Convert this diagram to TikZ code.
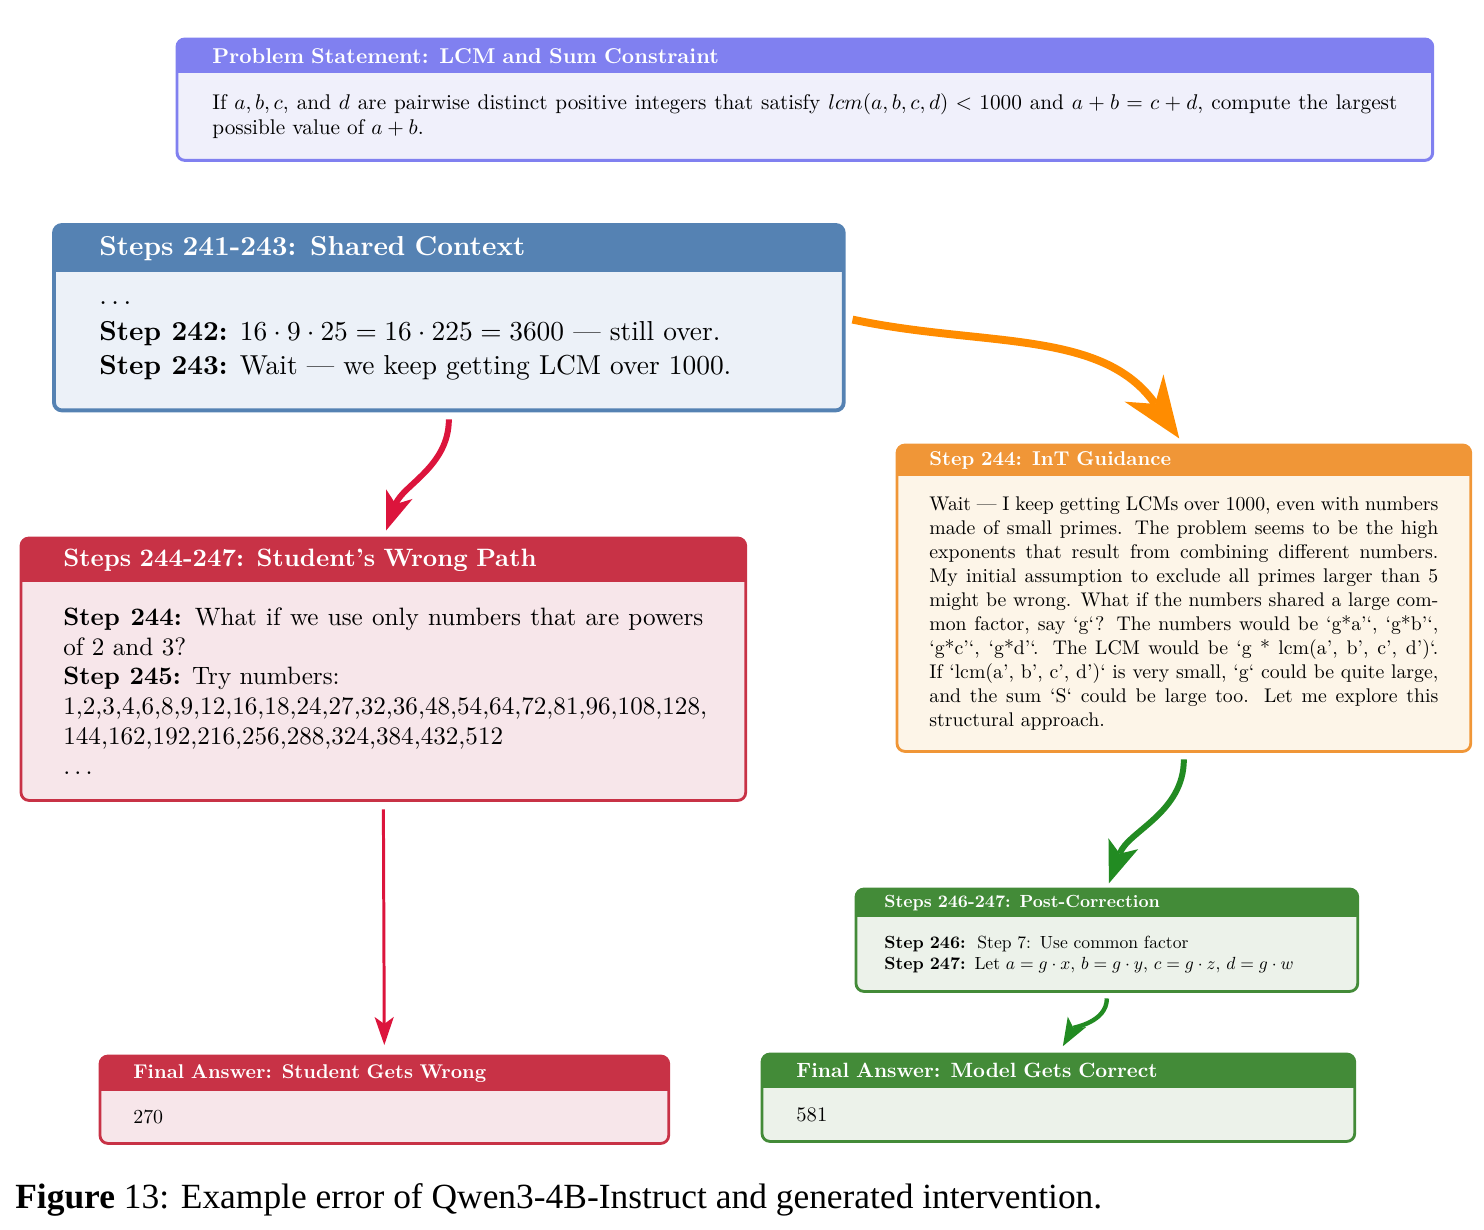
\documentclass[tikz,border=0pt]{standalone}
\usepackage{fontspec}
\setmainfont{lmroman10-regular}[Extension=.otf, BoldFont=lmroman10-bold, ItalicFont=lmroman10-italic, BoldItalicFont=lmroman10-bolditalic]
\newfontfamily\capfont{Liberation Serif}
\DeclareFontShape{OML}{cmm}{m}{it}{<->cmmi10}{}
\DeclareFontShape{OMS}{cmsy}{m}{n}{<->cmsy10}{}
\DeclareFontShape{OT1}{cmr}{m}{n}{<->cmr10}{}
\usepackage{tikz}
\usetikzlibrary{arrows.meta,positioning,calc,backgrounds}

\definecolor{probDark}{RGB}{128,128,240}
\definecolor{probLight}{RGB}{240,240,251}
\definecolor{ctxDark}{RGB}{85,130,179}
\definecolor{ctxLight}{RGB}{236,241,248}
\definecolor{wrongDark}{RGB}{200,50,70}
\definecolor{wrongLight}{RGB}{247,230,234}
\definecolor{guideDark}{RGB}{240,150,55}
\definecolor{guideLight}{RGB}{253,245,232}
\definecolor{fixDark}{RGB}{67,139,56}
\definecolor{fixLight}{RGB}{236,242,234}
\definecolor{arrOrange}{RGB}{255,140,0}
\definecolor{arrRed}{RGB}{220,20,60}
\definecolor{arrGreen}{RGB}{34,139,34}

\newcommand{\fs}[2]{\fontsize{#1}{#2}\selectfont}
% frame behind a title node and a body node
\newcommand{\panelframe}[5][1.6pt]{%
  \begin{scope}[on background layer]
    \fill[#5, rounded corners=4.5pt] (#2.north west) rectangle (#3.south east);
    \fill[#4, rounded corners=4.5pt] (#2.north west) rectangle (#2.south east);
    \fill[#4] (#2.west) rectangle (#2.south east);
    \draw[#4, line width=#1, rounded corners=4.5pt] (#2.north west) rectangle (#3.south east);
  \end{scope}}

\tikzset{
  ttl/.style={anchor=north west, text=white, align=left, inner ysep=0pt},
  bdy/.style={inner ysep=0pt, align=justify, text=black},
}

\begin{document}
\begin{tikzpicture}
\useasboundingbox (0,0) rectangle (29.68,-24.6);

% problem statement
\node[ttl, font=\fs{12.2}{14.2}\bfseries, text width=23.7cm, inner xsep=0.7cm, minimum height=0.66cm] (probt) at (3.54,-0.78) {Problem Statement: LCM and Sum Constraint};
\node[bdy, font=\fs{12.1}{14.2}, text width=23.7cm, inner xsep=0.7cm, minimum height=1.74cm, below=0pt of probt] (prob) {If $a,b,c$, and $d$ are pairwise distinct positive integers that satisfy $lcm(a,b,c,d)<1000$ and $a+b=c+d$, compute the largest possible value of $a+b$.};
\panelframe[1.7pt]{probt}{prob}{probDark}{probLight}

% shared context
\node[ttl, font=\fs{15.6}{18.8}\bfseries, text width=13.98cm, inner xsep=0.9cm, minimum height=0.92cm] (ctxt) at (1.08,-4.5) {Steps 241-243: Shared Context};
\node[bdy, font=\fs{15.6}{19.2}, text width=13.98cm, inner xsep=0.9cm, minimum height=2.76cm, below=0pt of ctxt] (ctx) {$\ldots$\par\vspace{1.5pt}
\textbf{Step 242:} $16\cdot9\cdot25=16\cdot225=3600$ --- still over.\par
\textbf{Step 243:} Wait --- we keep getting LCM over 1000.};
\panelframe[2.2pt]{ctxt}{ctx}{ctxDark}{ctxLight}

% wrong path
\node[ttl, font=\fs{14.3}{17}\bfseries, text width=12.8cm, inner xsep=0.84cm, minimum height=0.86cm] (wrongt) at (0.42,-10.76) {Steps 244-247: Student's Wrong Path};
\node[bdy, font=\fs{14.3}{17}, text width=12.8cm, inner xsep=0.84cm, minimum height=4.36cm, below=0pt of wrongt] (wrong) {\textbf{Step 244:} What if we use only numbers that are powers of 2 and 3?\par
\textbf{Step 245:} Try numbers:\par
1,2,3,4,6,8,9,12,16,18,24,27,32,36,48,54,64,72,81,96,108,128,\par
144,162,192,216,256,288,324,384,432,512\par
$\ldots$};
\panelframe{wrongt}{wrong}{wrongDark}{wrongLight}

% guidance
\node[ttl, font=\fs{11.4}{13.7}\bfseries, text width=10.18cm, inner xsep=0.64cm, minimum height=0.6cm] (guidet) at (17.94,-8.9) {Step 244: InT Guidance};
\node[bdy, font=\fs{11.25}{13.7}, text width=10.18cm, inner xsep=0.64cm, minimum height=5.5cm, below=0pt of guidet] (guide) {Wait --- I keep getting LCMs over 1000, even with numbers\linebreak
made of small primes. The problem seems to be the high\linebreak
exponents that result from combining different numbers.\linebreak
My initial assumption to exclude all primes larger than 5\linebreak
might be wrong. What if the numbers shared a large com-\linebreak
mon factor, say `g`? The numbers would be `g*a'`, `g*b'`,\linebreak
`g*c'`, `g*d'`. The LCM would be `g * lcm(a', b', c', d')`.\linebreak
If `lcm(a', b', c', d')` is very small, `g` could be quite large,\linebreak
and the sum `S` could be large too. Let me explore this\linebreak
structural approach.};
\panelframe{guidet}{guide}{guideDark}{guideLight}

% post-correction
\node[ttl, font=\fs{10}{12}\bfseries, text width=8.9cm, inner xsep=0.56cm, minimum height=0.54cm] (fixt) at (17.12,-17.78) {Steps 246-247: Post-Correction};
\node[bdy, align=left, font=\fs{10}{12}, text width=8.9cm, inner xsep=0.56cm, minimum height=1.48cm, below=0pt of fixt] (fix) {\textbf{Step 246:}\ \ Step 7: Use common factor\\
\textbf{Step 247:} Let $a=g\cdot x$, $b=g\cdot y$, $c=g\cdot z$, $d=g\cdot w$};
\panelframe{fixt}{fix}{fixDark}{fixLight}

% final answers
\node[ttl, font=\fs{11.3}{13.6}\bfseries, text width=10.04cm, inner xsep=0.66cm, minimum height=0.68cm] (finwt) at (2.0,-21.12) {Final Answer: Student Gets Wrong};
\node[bdy, align=left, font=\fs{11.3}{13.6}, text width=10.04cm, inner xsep=0.66cm, minimum height=1.04cm, below=0pt of finwt] (finw) {270};
\panelframe{finwt}{finw}{wrongDark}{wrongLight}

\node[ttl, font=\fs{11.75}{14}\bfseries, text width=10.48cm, inner xsep=0.68cm, minimum height=0.66cm] (fingt) at (15.24,-21.08) {Final Answer: Model Gets Correct};
\node[bdy, align=left, font=\fs{11.75}{14}, text width=10.48cm, inner xsep=0.68cm, minimum height=1.06cm, below=0pt of fingt] (fing) {581};
\panelframe{fingt}{fing}{fixDark}{fixLight}

% arrows
\draw[arrOrange, line width=4.5pt, -{Stealth[length=35pt, width=27pt, inset=11pt, line width=0pt]}, shorten <=0.18cm, shorten >=0.16cm]
  ($(ctxt.north east)!0.5!(ctx.south east)$) to[out=-12, in=125] (guidet.north);
\draw[arrRed, line width=3.4pt, -{Stealth[length=22pt, width=16pt, inset=6pt, line width=0pt]}, shorten <=0.18cm, shorten >=0.16cm]
  (ctx.south) to[out=-90, in=70] (wrongt.north);
\draw[arrRed, line width=1.7pt, -{Stealth[length=16pt, width=11pt, inset=4pt, line width=0pt]}, shorten <=0.18cm, shorten >=0.22cm]
  (wrong.south) -- (finwt.north);
\draw[arrGreen, line width=3.4pt, -{Stealth[length=24pt, width=18pt, inset=6pt, line width=0pt]}, shorten <=0.16cm, shorten >=0.12cm]
  (guide.south) to[out=-90, in=70] (fixt.north);
\draw[arrGreen, line width=2.5pt, -{Stealth[length=16pt, width=12pt, inset=4pt, line width=0pt]}, shorten <=0.14cm, shorten >=0.18cm]
  (fix.south) to[out=-90, in=60] (fingt.north);

% caption
\node[anchor=base west, inner sep=0pt, font=\capfont\fs{20.15}{24}] (cap) at (0.3,-24.16) {\textbf{Figure} 13: Example error of Qwen3-4B-Instruct and generated intervention.};
\end{tikzpicture}
\end{document}
